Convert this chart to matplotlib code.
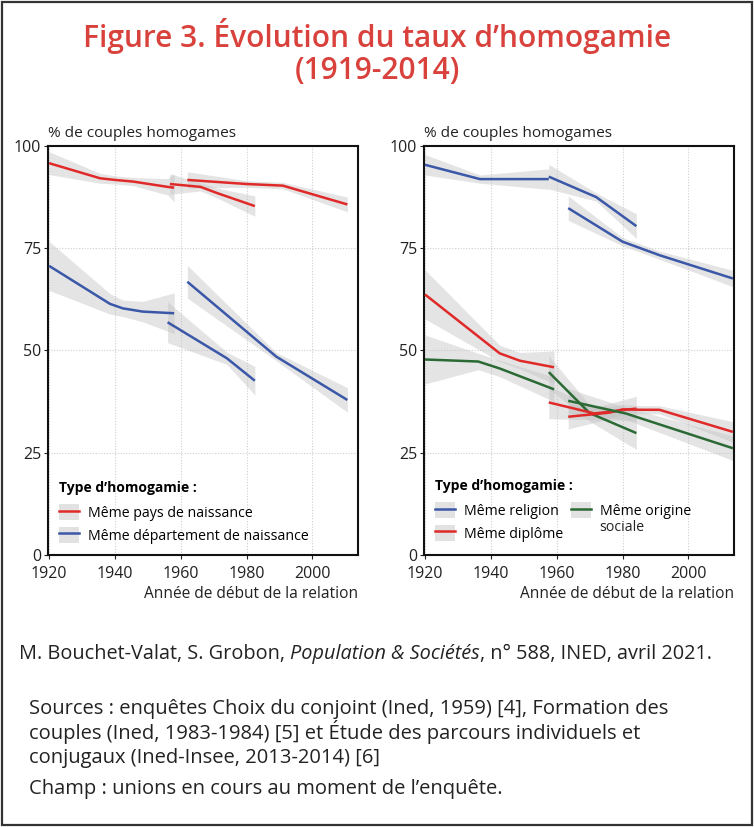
import matplotlib
matplotlib.use("Agg")
import matplotlib.pyplot as plt
from matplotlib.patches import Patch, Rectangle
from matplotlib.lines import Line2D

plt.rcParams['font.family'] = ['Open Sans', 'DejaVu Sans']

# ---------------- data ----------------
# Left panel: birthplace homogamy, three surveys each
pays_s1_x = [1920, 1935.5, 1940, 1945.5, 1956, 1958]
pays_s1_y = [95.8, 92.1, 91.7, 91.3, 90.0, 89.8]
pays_s1_e = [2.8, 1.2, 1.0, 1.0, 2.0, 3.5]
pays_s2_x = [1956.7, 1966, 1971, 1982.5]
pays_s2_y = [90.7, 90.0, 88.5, 85.3]
pays_s2_e = [2.5, 1.0, 1.2, 2.5]
pays_s3_x = [1962, 1980, 1991, 2010.6]
pays_s3_y = [91.7, 90.7, 90.3, 85.7]
pays_s3_e = [2.0, 0.8, 0.8, 1.8]

dep_s1_x = [1920, 1938.5, 1942.4, 1948.5, 1958]
dep_s1_y = [70.7, 61.4, 60.3, 59.5, 59.1]
dep_s1_e = [6.0, 2.5, 2.0, 2.5, 5.0]
dep_s2_x = [1956, 1974, 1982.5]
dep_s2_y = [56.9, 48.1, 42.6]
dep_s2_e = [5.0, 1.5, 3.5]
dep_s3_x = [1962, 1989, 2010.6]
dep_s3_y = [66.8, 48.5, 37.9]
dep_s3_e = [4.0, 1.0, 3.0]

# Right panel: religion, diploma, social origin
rel_s1_x = [1920, 1936.7, 1957.6]
rel_s1_y = [95.4, 91.9, 91.9]
rel_s1_e = [2.5, 1.0, 2.5]
rel_s2_x = [1957.6, 1972, 1984.2]
rel_s2_y = [92.5, 87.5, 80.4]
rel_s2_e = [3.0, 1.0, 3.0]
rel_s3_x = [1963.5, 1980, 1991.2, 2013.5]
rel_s3_y = [84.8, 76.6, 73.3, 67.6]
rel_s3_e = [3.0, 1.0, 1.0, 2.0]

dip_s1_x = [1920, 1942.7, 1948.8, 1959.2]
dip_s1_y = [63.7, 49.3, 47.5, 45.9]
dip_s1_e = [6.0, 2.0, 2.0, 4.0]
dip_s2_x = [1957.6, 1971.5, 1984.2]
dip_s2_y = [37.3, 34.6, 35.8]
dip_s2_e = [4.0, 1.5, 3.0]
dip_s3_x = [1963.5, 1976, 1980, 1986, 1991.2, 2013.5]
dip_s3_y = [33.8, 34.8, 35.6, 35.5, 35.5, 30.1]
dip_s3_e = [3.0, 1.5, 1.2, 1.0, 1.0, 2.5]

ori_s1_x = [1920, 1936.2, 1942.7, 1959.2]
ori_s1_y = [47.8, 47.3, 45.6, 40.5]
ori_s1_e = [6.0, 2.0, 2.0, 3.0]
ori_s2_x = [1957.6, 1970, 1984.2]
ori_s2_y = [44.7, 34.7, 29.8]
ori_s2_e = [4.0, 2.0, 4.0]
ori_s3_x = [1963.5, 1981, 2013.5]
ori_s3_y = [37.7, 34.6, 26.1]
ori_s3_e = [3.0, 1.5, 3.0]

x_ticks = [1920, 1940, 1960, 1980, 2000]
y_ticks = [0, 25, 50, 75, 100]

labels_left = ["Même pays de naissance", "Même département de naissance"]
labels_right = ["Même religion", "Même diplôme", "Même origine"]
label_right_extra = "sociale"

RED = '#e02a2a'
BLUE = '#3b57a8'
GREEN = '#2b6a35'
BAND = '#c4c4c4'
TXT = '#222222'

# ---------------- figure ----------------
fig = plt.figure(figsize=(7.54, 8.27), dpi=100)
fig.patches.append(Rectangle((0.003, 0.003), 0.994, 0.994, transform=fig.transFigure,
                             fill=False, edgecolor='#333333', linewidth=1.6))

fig.text(0.5, 0.957, "Figure 3. Évolution du taux d\u2019homogamie", ha='center', va='center',
         fontsize=21.5, color='#d9423c', fontweight='semibold')
fig.text(0.5, 0.914, "(1919-2014)", ha='center', va='center',
         fontsize=21.5, color='#d9423c', fontweight='semibold')

ax1 = fig.add_axes([0.0637, 0.3289, 0.411, 0.4946])
ax2 = fig.add_axes([0.5623, 0.3289, 0.411, 0.4946])


def draw(ax, x, y, e, color):
    lo = [a - b for a, b in zip(y, e)]
    hi = [a + b for a, b in zip(y, e)]
    ax.fill_between(x, lo, hi, color=BAND, alpha=0.45, linewidth=0, zorder=2)
    ax.plot(x, y, color=color, linewidth=1.8, zorder=3, solid_capstyle='butt')


for ax in (ax1, ax2):
    ax.set_xlim(1919.7, 2013.8)
    ax.set_ylim(0, 100)
    ax.set_xticks(x_ticks)
    ax.set_yticks(y_ticks)
    ax.tick_params(labelsize=11.5, length=3, width=0.8, colors=TXT)
    ax.tick_params(axis='x', pad=5)
    ax.tick_params(axis='y', pad=2)
    ax.grid(True, color='#cfcfcf', linestyle=(0, (1, 1.5)), linewidth=0.8, zorder=0)
    for s in ax.spines.values():
        s.set_linewidth(1.5)
        s.set_color('#111111')
    ax.text(0.0, 1.012, "% de couples homogames", transform=ax.transAxes, ha='left', va='bottom',
            fontsize=11.1, color=TXT)
    ax.text(1.0, -0.075, "Année de début de la relation", transform=ax.transAxes, ha='right', va='top',
            fontsize=11.2, color=TXT)

# left panel
draw(ax1, pays_s1_x, pays_s1_y, pays_s1_e, RED)
draw(ax1, pays_s2_x, pays_s2_y, pays_s2_e, RED)
draw(ax1, pays_s3_x, pays_s3_y, pays_s3_e, RED)
draw(ax1, dep_s1_x, dep_s1_y, dep_s1_e, BLUE)
draw(ax1, dep_s2_x, dep_s2_y, dep_s2_e, BLUE)
draw(ax1, dep_s3_x, dep_s3_y, dep_s3_e, BLUE)

# right panel
draw(ax2, rel_s1_x, rel_s1_y, rel_s1_e, BLUE)
draw(ax2, rel_s2_x, rel_s2_y, rel_s2_e, BLUE)
draw(ax2, rel_s3_x, rel_s3_y, rel_s3_e, BLUE)
draw(ax2, dip_s1_x, dip_s1_y, dip_s1_e, RED)
draw(ax2, ori_s1_x, ori_s1_y, ori_s1_e, GREEN)
draw(ax2, ori_s2_x, ori_s2_y, ori_s2_e, GREEN)
draw(ax2, dip_s2_x, dip_s2_y, dip_s2_e, RED)
draw(ax2, dip_s3_x, dip_s3_y, dip_s3_e, RED)
draw(ax2, ori_s3_x, ori_s3_y, ori_s3_e, GREEN)


def handle(color):
    return (Patch(facecolor='#e2e2e2', edgecolor='none'), Line2D([], [], color=color, linewidth=1.8))


common = dict(loc='lower left', frameon=False, fontsize=10.2,
              title="Type d\u2019homogamie :", title_fontproperties={'weight': 'bold', 'size': 10},
              handlelength=1.4, handleheight=1.3, handletextpad=0.6, labelspacing=0.45)

leg1 = ax1.legend([handle(RED), handle(BLUE)], labels_left,
                  bbox_to_anchor=(0.0, 0.0), borderaxespad=0.4, **common)
leg1._legend_box.align = 'left'
leg1._legend_box.sep = 7

leg2 = ax2.legend([handle(BLUE), handle(RED), handle(GREEN)], labels_right, ncol=2,
                  bbox_to_anchor=(0.0, 0.005), borderaxespad=0.4, columnspacing=0.6, **common)
leg2._legend_box.align = 'left'
leg2._legend_box.sep = 7

fig.canvas.draw()
r = fig.canvas.get_renderer()
tb = leg2.get_texts()[2].get_window_extent(r)
fig.text(tb.x0 / fig.bbox.width, tb.y0 / fig.bbox.height - 0.001, label_right_extra,
         fontsize=10.2, color=TXT, ha='left', va='top')

# footer
foot_y = 0.2031
fsz = 14.3
tA = fig.text(0.025, foot_y, "M. Bouchet-Valat, S. Grobon, ", fontsize=fsz, color=TXT, va='baseline')
bb = tA.get_window_extent(r)
tB = fig.text(bb.x1 / fig.bbox.width, foot_y, "Population & Sociétés", fontsize=fsz, color=TXT,
              va='baseline', style='italic')
bb2 = tB.get_window_extent(r)
fig.text(bb2.x1 / fig.bbox.width, foot_y, ", n° 588, INED, avril 2021.", fontsize=fsz, color=TXT,
         va='baseline')

ssz = 14.5
src_lines = ["Sources : enquêtes Choix du conjoint (Ined, 1959) [4], Formation des",
             "couples (Ined, 1983-1984) [5] et Étude des parcours individuels et",
             "conjugaux (Ined-Insee, 2013-2014) [6]"]
src_y = [0.1366, 0.1070, 0.0774]
for line, yy in zip(src_lines, src_y):
    fig.text(0.039, yy, line, fontsize=ssz, color=TXT, va='baseline')
fig.text(0.039, 0.0399, "Champ : unions en cours au moment de l\u2019enquête.", fontsize=ssz,
         color=TXT, va='baseline')

fig.savefig("out.png", dpi=100)
